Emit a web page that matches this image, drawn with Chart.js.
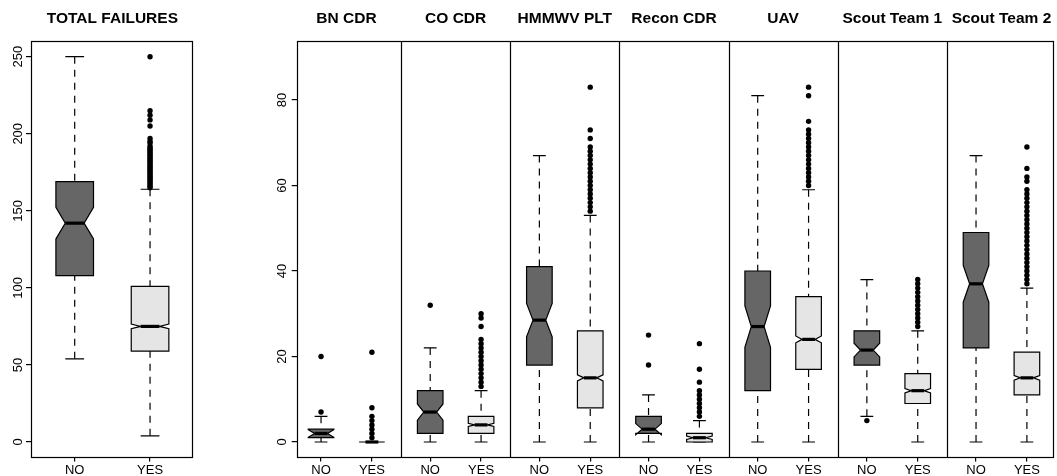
<!DOCTYPE html>
<html>
<head>
<meta charset="utf-8">
<title>Failures by role</title>
<script src="https://cdn.jsdelivr.net/npm/chart.js@4.4.1/dist/chart.umd.min.js"></script>
<style>
  html, body { margin: 0; padding: 0; background: #fff; overflow: hidden; }
  #wrap { position: relative; width: 1057px; height: 476px; }
  .pane { position: absolute; top: 0; height: 476px; }
</style>
</head>
<body>
<div id="wrap">
  <div class="pane" style="left:0;width:210px"><canvas id="totalChart"></canvas></div>
  <div class="pane" style="left:210px;width:847px"><canvas id="roleChart"></canvas></div>
</div>
<script>
// ---- data ----
var groupLabels = ['NO', 'YES'];

// total failures, NO / YES
var totalTitle = 'TOTAL FAILURES';
var totalLow   = [54, 4];
var totalQ1    = [108, 59];
var totalMed   = [142, 75];
var totalQ3    = [169, 101];
var totalHigh  = [250, 164];
var totalNotch = [10.3, 1.5];
var totalOutNo  = [];
var totalOutYes = [165, 166, 167, 168, 169, 170, 171, 172, 173, 174, 175, 176, 177, 178,
                   179, 180, 181, 182, 183, 184, 185, 186, 187, 188, 189, 190, 191, 192,
                   194, 195, 197, 205, 209, 212, 215, 250];
var totalTicks = [0, 50, 100, 150, 200, 250];

// failures per role, NO / YES
var roles = ['BN CDR', 'CO CDR', 'HMMWV PLT', 'Recon CDR', 'UAV', 'Scout Team 1', 'Scout Team 2'];
var noLow    = [0, 0, 0, 0, 0, 6, 0];
var noQ1     = [1, 2, 18, 2, 12, 18, 22];
var noMed    = [2, 7, 28.5, 3, 27, 21.5, 37];
var noQ3     = [3, 12, 41, 6, 40, 26, 49];
var noHigh   = [6, 22, 67, 11, 81, 38, 67];
var noNotch  = [0.9, 1.9, 3.9, 1.3, 4.85, 1.6, 4.3];
var yesLow   = [0, 0, 0, 0, 0, 0, 0];
var yesQ1    = [0, 2, 8, 0, 17, 9, 11];
var yesMed   = [0, 4, 15, 1, 24, 12, 15];
var yesQ3    = [0, 6, 26, 2, 34, 16, 21];
var yesHigh  = [0, 12, 53, 5, 59, 26, 36];
var yesNotch = [0, 0.35, 0.7, 0.4, 0.8, 0.5, 0.55];
var noOut = [
  [7, 20],
  [32],
  [],
  [18, 25],
  [],
  [5],
  []
];
var yesOut = [
  [1, 2, 3, 4, 5, 6, 8, 21],
  [13, 14, 15, 16, 17, 18, 19, 20, 21, 22, 23, 24, 27, 29, 30],
  [54, 55, 56, 57, 58, 59, 60, 61, 62, 63, 64, 65, 66, 67, 68, 69, 71, 73, 83],
  [6, 7, 8, 9, 10, 11, 12, 14, 17, 23],
  [60, 61, 62, 63, 64, 65, 66, 67, 68, 69, 70, 71, 72, 73, 75, 81, 83],
  [27, 28, 29, 30, 31, 32, 33, 34, 35, 36, 37, 38],
  [37, 38, 39, 40, 41, 42, 43, 44, 45, 46, 47, 48, 49, 50, 51, 52, 53, 54, 55, 56, 57, 58, 59,
   61, 62, 64, 69]
];
var roleTicks = [0, 20, 40, 60, 80];

// ---- styling ----
var FONT = "'Liberation Sans', Arial, Helvetica, sans-serif";
var FILL_NO = '#666666';
var FILL_YES = '#e5e5e5';
var LINE_W = 1.2;

function box(x, low, q1, med, q3, high, notch, fill) {
  return { x: x, low: low, q1: q1, med: med, q3: q3, high: high, notch: notch, fill: fill };
}

// left panel boxes sit at x = 1, 2
var totalBoxes = [
  box(1, totalLow[0], totalQ1[0], totalMed[0], totalQ3[0], totalHigh[0], totalNotch[0], FILL_NO),
  box(2, totalLow[1], totalQ1[1], totalMed[1], totalQ3[1], totalHigh[1], totalNotch[1], FILL_YES)
];
var totalPoints = [];
totalOutNo.forEach(function (v) { totalPoints.push({ x: 1, y: v }); });
totalOutYes.forEach(function (v) { totalPoints.push({ x: 2, y: v }); });

// right panel: one unit per role, NO and YES either side of the centre
var NO_OFF = 0.267, YES_OFF = 0.733;
var roleBoxes = [], rolePoints = [], roleTickPos = [];
roles.forEach(function (r, i) {
  roleBoxes.push(box(i + NO_OFF, noLow[i], noQ1[i], noMed[i], noQ3[i], noHigh[i], noNotch[i], FILL_NO));
  roleBoxes.push(box(i + YES_OFF, yesLow[i], yesQ1[i], yesMed[i], yesQ3[i], yesHigh[i], yesNotch[i], FILL_YES));
  noOut[i].forEach(function (v) { rolePoints.push({ x: i + NO_OFF, y: v }); });
  yesOut[i].forEach(function (v) { rolePoints.push({ x: i + YES_OFF, y: v }); });
  roleTickPos.push(i + NO_OFF, i + YES_OFF);
});

// notched boxes with dashed whiskers, drawn under the outlier points
var boxPlugin = {
  id: 'notchedBoxes',
  beforeDatasetsDraw: function (chart, args, opts) {
    var ctx = chart.ctx, xs = chart.scales.x, ys = chart.scales.y;
    var hw = opts.halfWidth;
    var py = function (v) { return ys.getPixelForValue(v); };
    opts.boxes.forEach(function (b) {
      var cx = xs.getPixelForValue(b.x);
      ctx.save();
      ctx.strokeStyle = '#000';
      ctx.lineWidth = LINE_W;
      ctx.setLineDash([7, 6]);
      ctx.beginPath();
      ctx.moveTo(cx, py(b.high)); ctx.lineTo(cx, py(b.q3));
      ctx.moveTo(cx, py(b.low)); ctx.lineTo(cx, py(b.q1));
      ctx.stroke();
      ctx.setLineDash([]);
      ctx.beginPath();
      ctx.moveTo(cx - hw / 2, py(b.high)); ctx.lineTo(cx + hw / 2, py(b.high));
      ctx.moveTo(cx - hw / 2, py(b.low)); ctx.lineTo(cx + hw / 2, py(b.low));
      ctx.stroke();

      var lo = b.med - b.notch, hi = b.med + b.notch;
      var pts = [[-1, b.q1], [-1, lo], [-0.5, b.med], [-1, hi], [-1, b.q3],
                 [1, b.q3], [1, hi], [0.5, b.med], [1, lo], [1, b.q1]];
      ctx.beginPath();
      pts.forEach(function (p, k) {
        var X = cx + p[0] * hw, Y = py(p[1]);
        if (k) ctx.lineTo(X, Y); else ctx.moveTo(X, Y);
      });
      ctx.closePath();
      ctx.fillStyle = b.fill;
      ctx.fill();
      ctx.stroke();

      ctx.lineWidth = 3.2;
      ctx.beginPath();
      ctx.moveTo(cx - hw / 2, py(b.med)); ctx.lineTo(cx + hw / 2, py(b.med));
      ctx.stroke();
      ctx.restore();
    });
  }
};

// plot frame, panel dividers and bold titles
var framePlugin = {
  id: 'panelFrame',
  afterDraw: function (chart, args, opts) {
    var ctx = chart.ctx, a = chart.chartArea, xs = chart.scales.x;
    var L = Math.round(a.left) + 0.5, R = Math.round(a.right) - 0.5;
    var T = Math.round(a.top) + 0.5, B = Math.round(a.bottom) - 0.5;
    ctx.save();
    ctx.strokeStyle = '#000';
    ctx.lineWidth = LINE_W;
    ctx.strokeRect(L, T, R - L, B - T);
    ctx.beginPath();
    (opts.dividers || []).forEach(function (d) {
      var X = Math.round(xs.getPixelForValue(d)) + 0.5;
      ctx.moveTo(X, T); ctx.lineTo(X, B);
    });
    ctx.stroke();
    ctx.fillStyle = '#000';
    ctx.font = 'bold 15.5px ' + FONT;
    ctx.textAlign = 'center';
    ctx.textBaseline = 'alphabetic';
    opts.titles.forEach(function (t) {
      ctx.fillText(t.text, xs.getPixelForValue(t.x), 23);
    });
    ctx.restore();
  }
};

function makeScales(o) {
  return {
    x: {
      type: 'linear', min: o.xMin, max: o.xMax,
      afterBuildTicks: function (s) { s.ticks = o.xTicks.map(function (v) { return { value: v }; }); },
      afterFit: function (s) { s.height = 18.5; },
      grid: { drawOnChartArea: false, tickLength: 4, color: '#000', lineWidth: LINE_W },
      border: { display: false },
      ticks: {
        autoSkip: false, maxRotation: 0, padding: 1.5, color: '#000',
        font: { family: FONT, size: 13 },
        callback: function (v, i) { return groupLabels[i % 2]; }
      }
    },
    y: {
      type: 'linear', min: o.yMin, max: o.yMax,
      afterBuildTicks: function (s) { s.ticks = o.yTicks.map(function (v) { return { value: v }; }); },
      afterFit: function (s) { s.width = o.yWidth; },
      grid: { drawOnChartArea: false, tickLength: 5, color: '#000', lineWidth: LINE_W },
      border: { display: false },
      ticks: {
        autoSkip: false, minRotation: 90, maxRotation: 90, crossAlign: 'center',
        padding: o.yPad, color: '#000',
        font: { family: FONT, size: 13 }
      }
    }
  };
}

function pointSet(points) {
  return {
    data: points, pointRadius: 2.7, pointHoverRadius: 2.7,
    backgroundColor: '#000', borderWidth: 0, clip: false
  };
}

new Chart(document.getElementById('totalChart'), {
  type: 'scatter',
  data: { datasets: [pointSet(totalPoints)] },
  options: {
    responsive: true, maintainAspectRatio: false, animation: false,
    layout: { padding: { top: 41, right: 17, left: 0, bottom: 0 } },
    plugins: {
      legend: { display: false }, tooltip: { enabled: false },
      notchedBoxes: { boxes: totalBoxes, halfWidth: 18.8 },
      panelFrame: { titles: [{ text: totalTitle, x: 1.5 }] }
    },
    scales: makeScales({
      xMin: 0.42, xMax: 2.57, xTicks: [1, 2],
      yMin: -10.06, yMax: 260.2, yTicks: totalTicks, yWidth: 31, yPad: -2.85
    })
  },
  plugins: [boxPlugin, framePlugin]
});

new Chart(document.getElementById('roleChart'), {
  type: 'scatter',
  data: { datasets: [pointSet(rolePoints)] },
  options: {
    responsive: true, maintainAspectRatio: false, animation: false,
    layout: { padding: { top: 41, right: 1, left: 0, bottom: 0 } },
    plugins: {
      legend: { display: false }, tooltip: { enabled: false },
      notchedBoxes: { boxes: roleBoxes, halfWidth: 12.8 },
      panelFrame: {
        dividers: [1, 2, 3, 4, 5, 6],
        titles: roles.map(function (r, i) { return { text: r, x: i + 0.5 }; })
      }
    },
    scales: makeScales({
      xMin: 0.044, xMax: 6.984, xTicks: roleTickPos,
      yMin: -3.63, yMax: 93.8, yTicks: roleTicks, yWidth: 86.7, yPad: 2.2
    })
  },
  plugins: [boxPlugin, framePlugin]
});
</script>
</body>
</html>
